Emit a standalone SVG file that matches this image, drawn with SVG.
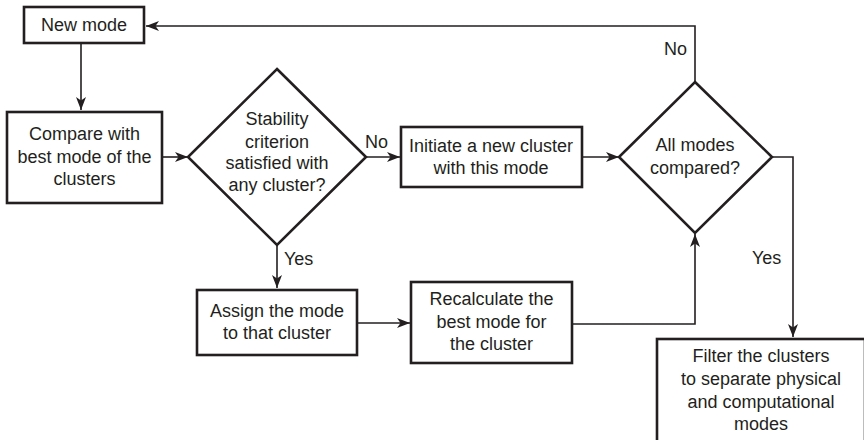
<svg xmlns="http://www.w3.org/2000/svg" width="864" height="440" viewBox="0 0 864 440">
<style>
.box{fill:#fff;stroke:#231f20;stroke-width:2.6}
.t{font-family:"Liberation Sans",Arial,sans-serif;font-size:18px;fill:#231f20;text-anchor:middle}
.l{font-family:"Liberation Sans",Arial,sans-serif;font-size:18px;fill:#231f20}
.c{fill:none;stroke:#231f20;stroke-width:1.6}
</style>
<defs>
<marker id="ah" markerUnits="userSpaceOnUse" markerWidth="14" markerHeight="12" refX="13" refY="5" orient="auto">
<path d="M0,0 L13,5 L0,10 L3.5,5 z" fill="#231f20"/>
</marker>
</defs>
<rect width="864" height="440" fill="#fff"/>
<g id="connectors">
<path class="c" d="M81,43 L81,110" marker-end="url(#ah)"/>
<path class="c" d="M162,157 L188,157" marker-end="url(#ah)"/>
<path class="c" d="M366,157 L400,157" marker-end="url(#ah)"/>
<path class="c" d="M582,157 L619,157" marker-end="url(#ah)"/>
<path class="c" d="M695,82 L695,26 L146,26" marker-end="url(#ah)"/>
<path class="c" d="M772,157 L793,157 L793,337" marker-end="url(#ah)"/>
<path class="c" d="M277,245 L277,288" marker-end="url(#ah)"/>
<path class="c" d="M357,323 L410,323" marker-end="url(#ah)"/>
<path class="c" d="M572,324 L695,324 L695,234" marker-end="url(#ah)"/>
<text class="l" x="365" y="148">No</text>
<text class="l" x="664" y="55">No</text>
<text class="l" x="284" y="265">Yes</text>
<text class="l" x="752" y="264">Yes</text>
</g>
<g id="new-mode">
<rect class="box" x="24" y="7" width="120" height="36"/>
<text class="t" x="84" y="31">New mode</text>
</g>
<g id="compare">
<rect class="box" x="7" y="112" width="155" height="91"/>
<text class="t" x="84.5" y="140">Compare with</text>
<text class="t" x="84.5" y="163">best mode of the</text>
<text class="t" x="84.5" y="185">clusters</text>
</g>
<g id="stability">
<polygon class="box" points="277,69 366,157 277,245 188,157"/>
<text class="t" x="277" y="125">Stability</text>
<text class="t" x="277" y="148">criterion</text>
<text class="t" x="277" y="169">satisfied with</text>
<text class="t" x="277" y="191">any cluster?</text>
</g>
<g id="initiate">
<rect class="box" x="401" y="127" width="181" height="60"/>
<text class="t" x="491" y="152">Initiate a new cluster</text>
<text class="t" x="491" y="174">with this mode</text>
</g>
<g id="all-modes">
<polygon class="box" points="695,82 772,157 695,233 619,157"/>
<text class="t" x="695" y="151">All modes</text>
<text class="t" x="695" y="174">compared?</text>
</g>
<g id="assign">
<rect class="box" x="197" y="290" width="160" height="65"/>
<text class="t" x="277" y="317">Assign the mode</text>
<text class="t" x="277" y="339">to that cluster</text>
</g>
<g id="recalculate">
<rect class="box" x="411" y="282" width="161" height="81"/>
<text class="t" x="491.5" y="305">Recalculate the</text>
<text class="t" x="491.5" y="328">best mode for</text>
<text class="t" x="491.5" y="350">the cluster</text>
</g>
<g id="filter">
<rect class="box" x="657" y="339" width="208" height="112"/>
<text class="t" x="761" y="362">Filter the clusters</text>
<text class="t" x="761" y="385">to separate physical</text>
<text class="t" x="761" y="408">and computational</text>
<text class="t" x="761" y="430">modes</text>
</g>
</svg>
